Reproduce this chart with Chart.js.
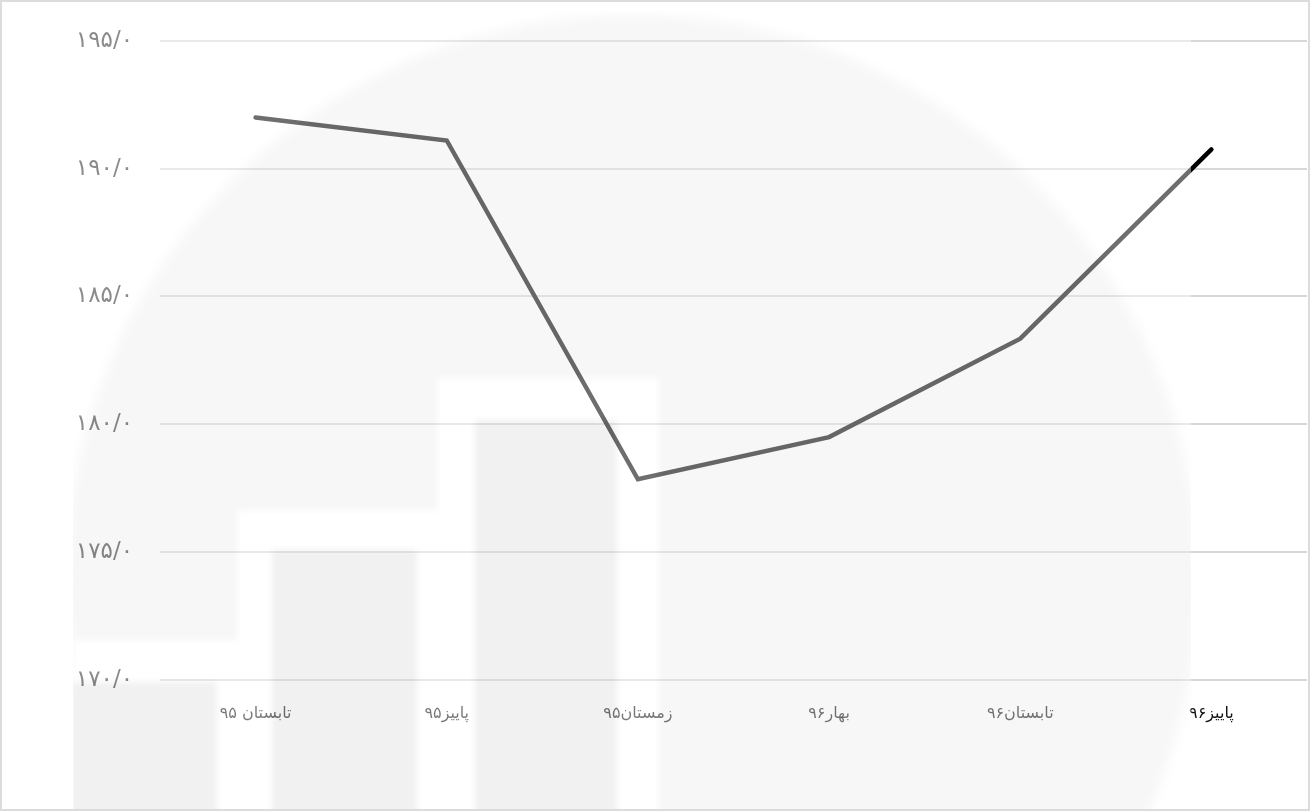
<!DOCTYPE html>
<html>
<head>
<meta charset="utf-8">
<script src="https://cdn.jsdelivr.net/npm/chart.js@4.4.0/dist/chart.umd.min.js"></script>
<style>
  html, body { margin: 0; padding: 0; background: #fff; }
  #frame { position: relative; width: 1310px; height: 811px; box-sizing: border-box;
           border: 2px solid #dcdcdc; overflow: hidden; background: #fff; }
  #chartBox { position: absolute; left: -2px; top: -2px; width: 1310px; height: 811px; }
  #wm { position: absolute; left: 71px; top: 10px; width: 1118px; height: 810px;
        background: #fff; opacity: 0.43; pointer-events: none; overflow: hidden; }
  #wm .circle { position: absolute; left: -7px; top: 3px; width: 1132px; height: 1132px;
        border-radius: 50%; background: #ececec; filter: blur(6px); }
  #wm .w, #wm .g { position: absolute; filter: blur(3px); }
  #wm .w { background: #fff; }
  #wm .g { background: #dedede; }
</style>
</head>
<body>
<div id="frame">
  <div id="chartBox"><canvas id="c" width="1310" height="811"></canvas></div>
  <div id="wm">
    <div class="circle"></div>
    <div class="w" style="left:0px;top:628px;width:168px;height:200px"></div>
    <div class="w" style="left:164px;top:498px;width:204px;height:330px"></div>
    <div class="w" style="left:364px;top:366px;width:222px;height:460px"></div>
    <div class="g" style="left:-2px;top:670px;width:146px;height:160px"></div>
    <div class="g" style="left:199px;top:538px;width:145px;height:290px"></div>
    <div class="g" style="left:402px;top:408px;width:142px;height:420px"></div>
  </div>
</div>
<script>
const categories = ["تابستان ۹۵", "پاییز۹۵", "زمستان۹۵", "بهار۹۶", "تابستان۹۶", "پاییز۹۶"];
const seriesValues = [192.0, 191.1, 177.85, 179.5, 183.35, 190.75];
const yTicks = [170, 175, 180, 185, 190, 195];

const faDigits = "۰۱۲۳۴۵۶۷۸۹";
function toFa(str) { return String(str).replace(/[0-9]/g, d => faDigits[+d]); }
function fmtTick(v) { return toFa(Number(v).toFixed(1)).replace(".", "/"); }

const ctx = document.getElementById("c").getContext("2d");
new Chart(ctx, {
  type: "line",
  data: {
    labels: categories,
    datasets: [{
      data: seriesValues,
      borderColor: "#000",
      borderWidth: 4.5,
      borderCapStyle: "round",
      pointRadius: 0,
      pointHoverRadius: 0,
      tension: 0,
      fill: false
    }]
  },
  options: {
    responsive: false,
    animation: false,
    devicePixelRatio: 1,
    layout: { padding: { top: 40, right: 3, bottom: 0, left: 0 } },
    plugins: { legend: { display: false }, tooltip: { enabled: false } },
    scales: {
      x: {
        offset: true,
        grid: { display: false, drawTicks: false },
        border: { display: false },
        ticks: {
          color: "#111",
          padding: 24,
          maxRotation: 0,
          font: { family: "DejaVu Sans", size: 16 }
        },
        afterFit(scale) { scale.height = 131; }
      },
      y: {
        min: yTicks[0],
        max: yTicks[yTicks.length - 1],
        afterBuildTicks(scale) { scale.ticks = yTicks.map(v => ({ value: v })); },
        grid: { color: "#d8d8d8", lineWidth: 2, drawTicks: false },
        border: { display: false },
        ticks: {
          color: "#333",
          padding: 27,
          font: { family: "DejaVu Sans", size: 23 },
          callback: v => fmtTick(v)
        },
        afterFit(scale) { scale.width = 160; }
      }
    }
  }
});
</script>
</body>
</html>
